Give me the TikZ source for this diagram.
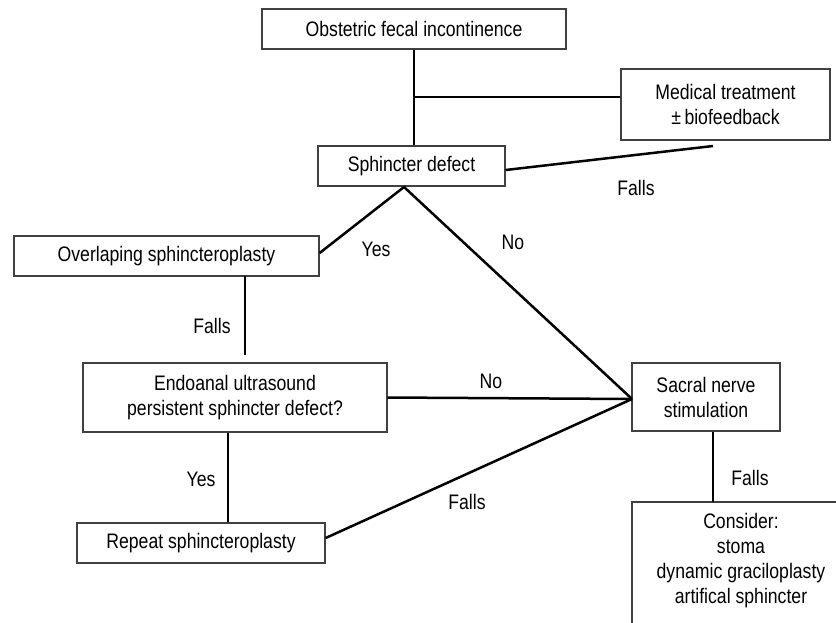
\documentclass[tikz,border=0pt]{standalone}
\usepackage{fontspec}
\setmainfont{Liberation Sans}[FakeStretch=0.84]
\usetikzlibrary{calc}
\begin{document}
\begin{tikzpicture}[x=1pt,y=-1pt,
  every node/.style={font=\fontsize{21}{25}\selectfont},
  box/.style={draw=black!75,line width=1.3pt,inner sep=0pt,align=center},
  conn/.style={line width=2.5pt,black},
  lab/.style={inner sep=0pt}]
\useasboundingbox (0,0) rectangle (836,622);
\clip (0,0) rectangle (836,622);
% boxes
\node[box,minimum width=304,minimum height=40] (top) at (414,29) {Obstetric fecal incontinence};
\node[box,minimum width=209,minimum height=71] (med) at (725.5,104.5) {Medical treatment\\±\,biofeedback};
\node[box,minimum width=187,minimum height=40] (sph) at (411.5,166) {Sphincter defect};
\node[box,minimum width=305,minimum height=40] (ov) at (166.5,256) {Overlaping sphincteroplasty};
\node[box,minimum width=304,minimum height=69] (endo) at (235,397.5) {Endoanal ultrasound\\persistent sphincter defect?};
\node[box,minimum width=148,minimum height=68] (sac) at (706,397) {Sacral nerve\\stimulation};
\node[box,minimum width=248,minimum height=40] (rep) at (201,543) {Repeat sphincteroplasty};
\draw[draw=black!75,line width=1.3pt] (632,640) -- (632,502) -- (850,502);
\node[inner sep=0pt,align=center] (cons) at (741,561) {Consider:\\stoma\\dynamic graciloplasty\\artifical sphincter};
% coordinates
\coordinate (br) at (414,97);
\coordinate (medfall) at (713,146);
\coordinate (apex) at (404,187);
\coordinate (ovbot) at (245,276);
\coordinate (endotop) at (245,355);
\coordinate (consTop) at (713,502);
\coordinate (sacin) at (632,399);
% connectors
\draw[conn] (top.south) -- (top.south |- sph.north);
\draw[conn] (br) -- (br -| med.west);
\draw[conn] ($(sph.east)+(0,4)$) -- (medfall);
\draw[conn] (apex) -- ($(ov.east)+(0,-3)$);
\draw[conn] (apex) -- (sacin);
\draw[conn] (ovbot) -- (endotop);
\draw[conn] (endo.east) -- (sacin);
\draw[conn] (endo.south -| rep.north) ++(27,0) coordinate (eb) (eb) -- (eb |- rep.north);
\draw[conn] ($(rep.east)+(0,-5)$) -- (sacin);
\draw[conn] (sac.south -| consTop) -- (consTop);
% labels
\node[lab] (l1) at (636,188) {Falls};
\node[lab] (l2) at (376,249) {Yes};
\node[lab] (l3) at (513,242) {No};
\node[lab] (l4) at (212,326) {Falls};
\node[lab] (l5) at (491,381) {No};
\node[lab] (l6) at (201,479) {Yes};
\node[lab] (l7) at (467,502) {Falls};
\node[lab] (l8) at (750,478) {Falls};
\end{tikzpicture}
\end{document}
